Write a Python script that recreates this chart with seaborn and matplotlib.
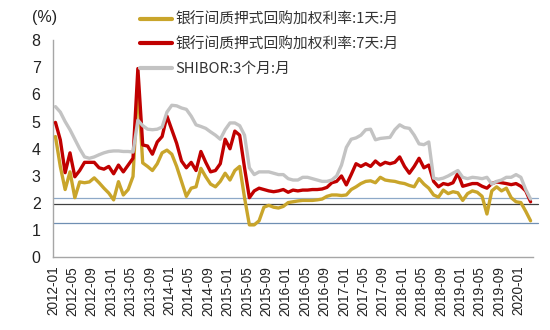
import numpy as np
import pandas as pd
import matplotlib
matplotlib.use("Agg")
import matplotlib.pyplot as plt
import seaborn as sns
from matplotlib.lines import Line2D

# ---------------- data (monthly, 2012-01 .. 2020-03) ----------------
start_month = "2012-01"
n_months = 99

rate_1d = [4.45, 3.35, 2.5, 3.15, 2.2, 2.78, 2.75, 2.78, 2.93, 2.75, 2.55, 2.37,
           2.12, 2.79, 2.3, 2.5, 2.98, 6.4, 3.48, 3.35, 3.2, 3.45, 3.85, 3.95,
           3.8, 3.35, 2.8, 2.25, 2.55, 2.6, 3.28, 2.97, 2.7, 2.6, 2.8, 3.1,
           2.85, 3.2, 3.35, 2.2, 1.2, 1.2, 1.35, 1.85, 1.92, 1.85, 1.82, 1.88,
           2.02, 2.05, 2.08, 2.1, 2.1, 2.1, 2.12, 2.15, 2.25, 2.3, 2.3, 2.28,
           2.3, 2.5, 2.6, 2.72, 2.8, 2.82, 2.75, 2.95, 2.85, 2.82, 2.8, 2.75,
           2.72, 2.65, 2.6, 2.9, 2.7, 2.55, 2.3, 2.22, 2.48, 2.35, 2.42, 2.38,
           2.1, 2.35, 2.45, 2.4, 2.25, 1.6, 2.45, 2.6, 2.45, 2.55, 2.2, 2.05,
           2.02, 1.7, 1.35]

rate_7d = [4.97, 4.33, 3.12, 3.85, 2.97, 3.2, 3.5, 3.5, 3.5, 3.3, 3.25, 3.35,
           3.08, 3.4, 3.15, 3.4, 3.65, 6.95, 4.14, 4.1, 3.8, 4.25, 4.45, 5.2,
           4.7, 4.2, 3.55, 3.3, 3.5, 3.2, 3.9, 3.5, 3.15, 3.2, 3.45, 4.35,
           4.0, 4.65, 4.5, 3.3, 2.2, 2.45, 2.55, 2.5, 2.45, 2.42, 2.45, 2.5,
           2.4, 2.48, 2.45, 2.48, 2.48, 2.5, 2.5, 2.52, 2.58, 2.75, 2.8, 3.0,
           2.67, 3.05, 3.45, 3.35, 3.45, 3.35, 3.55, 3.4, 3.5, 3.45, 3.5, 3.7,
           3.35, 3.1, 3.35, 3.65, 3.3, 3.4, 2.8, 2.6, 2.72, 2.68, 2.75, 3.1,
           2.62, 2.67, 2.72, 2.72, 2.62, 2.55, 2.72, 2.78, 2.75, 2.72, 2.68, 2.72,
           2.62, 2.45, 2.05]

shibor_3m = [5.55, 5.35, 5.0, 4.7, 4.35, 4.0, 3.7, 3.65, 3.7, 3.78, 3.85, 3.9,
             3.92, 3.92, 3.9, 3.9, 3.88, 5.05, 4.85, 4.72, 4.7, 4.72, 4.8, 5.35,
             5.6, 5.58, 5.5, 5.45, 5.2, 4.88, 4.82, 4.75, 4.62, 4.5, 4.35, 4.7,
             4.95, 4.95, 4.85, 4.5, 3.3, 3.05, 3.15, 3.15, 3.15, 3.1, 3.05, 3.05,
             2.9, 2.85, 2.85, 2.95, 2.95, 2.9, 2.85, 2.8, 2.8, 2.85, 3.0, 3.4,
             4.05, 4.35, 4.4, 4.5, 4.7, 4.72, 4.33, 4.38, 4.4, 4.42, 4.7, 4.88,
             4.78, 4.75, 4.5, 4.18, 4.15, 4.25, 2.92, 2.88, 2.92, 3.0, 3.1, 3.2,
             2.95, 2.9, 2.95, 2.93, 2.9, 2.95, 2.7, 2.8, 2.85, 2.95, 2.95, 3.05,
             2.95, 2.5, 2.15]

series_names = ["银行间质押式回购加权利率:1天:月",
                "银行间质押式回购加权利率:7天:月",
                "SHIBOR:3个月:月"]
series_colors = ["#C9A52B", "#C00000", "#C3C3C3"]
ref_levels = [2.18, 1.96, 1.28]
ref_colors = ["#8EA9C8", "#404040", "#6F8FB3"]
y_ticks = [0, 1, 2, 3, 4, 5, 6, 7, 8]
tick_every = 4

months = pd.period_range(start_month, periods=n_months, freq="M")
tick_labels = [str(m) for m in months[::tick_every]]

# ---------------- figure ----------------
sns.set_theme(style="white")
plt.rcParams["font.family"] = ["Liberation Sans", "Noto Sans CJK SC", "DejaVu Sans"]

fig = plt.figure(figsize=(5.5, 3.3), dpi=100)
ax = fig.add_axes([0.0964, 0.2197, 0.8727, 0.659])

pos = np.arange(n_months) + 0.5
df = pd.DataFrame({
    "x": np.concatenate([pos, pos, pos]),
    "v": rate_1d + rate_7d + shibor_3m,
    "s": np.repeat(series_names, n_months),
})

for lv, c in zip(ref_levels, ref_colors):
    ax.axhline(lv, xmin=0, xmax=1.01, color=c, lw=0.9, clip_on=False, zorder=1)

sns.lineplot(data=df, x="x", y="v", hue="s", hue_order=series_names,
             palette=series_colors, linewidth=2.4, ax=ax, legend=False,
             estimator=None, sort=False, zorder=3)

ax.set_xlim(0, n_months)
ax.set_ylim(0, 8)
ax.set_yticks(y_ticks)
ax.set_yticklabels([str(t) for t in y_ticks], fontsize=11.5, color="#222222")
ax.set_xticks(np.arange(0, n_months, tick_every))
ax.set_xticklabels(tick_labels, rotation=90, fontsize=9.8, color="#222222")
ax.set_xlabel("")
ax.set_ylabel("")

for side in ["top", "right"]:
    ax.spines[side].set_visible(False)
for side in ["left", "bottom"]:
    ax.spines[side].set_color("#A6A6A6")
    ax.spines[side].set_linewidth(1.0)
ax.tick_params(axis="both", direction="out", length=3, width=0.8,
               color="#A6A6A6", pad=3)
ax.tick_params(axis="y", pad=6)
ax.grid(False)

fig.text(0.058, 0.948, "(%)", fontsize=11.5, color="#222222", ha="left", va="center")

handles = [Line2D([0], [0], color=c, lw=3) for c in series_colors]
leg = fig.legend(handles, series_names, loc="upper left",
                 bbox_to_anchor=(0.254, 0.962), frameon=False,
                 prop={"family": ["Noto Sans CJK SC", "DejaVu Sans"], "size": 10.6},
                 handlelength=2.2, handletextpad=0.2, labelspacing=0.72,
                 borderpad=0, borderaxespad=0)
for t in leg.get_texts():
    t.set_color("#333333")

fig.savefig("out.png", dpi=100)
